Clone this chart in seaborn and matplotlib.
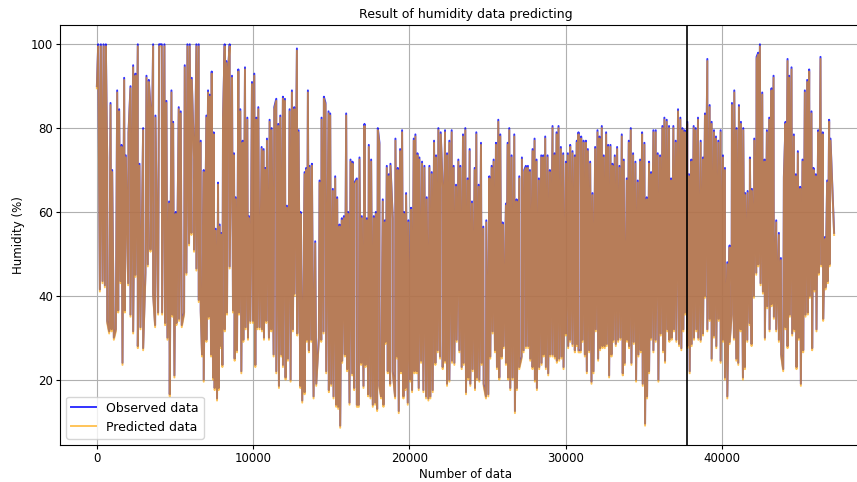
import matplotlib
matplotlib.use("Agg")
import matplotlib.pyplot as plt
import pandas as pd
import seaborn as sns

# Daily highs (peaks) and lows (troughs) of the hourly humidity record,
# indexed by observation number.
peak_n = [
    0, 86, 256, 426, 575, 661, 874, 980, 1300, 1427,
    1577, 1747, 1853, 2024, 2152, 2322, 2471, 2620, 2727, 2961,
    3174, 3323, 3430, 3600, 3749, 3983, 4154, 4324, 4452, 4622,
    4772, 4878, 5048, 5240, 5368, 5624, 5794, 5943, 6071, 6220,
    6369, 6518, 6646, 6838, 7008, 7115, 7221, 7349, 7477, 7604,
    7754, 7860, 7967, 8073, 8180, 8286, 8393, 8499, 8648, 8776,
    8882, 9053, 9181, 9330, 9479, 9628, 9734, 9926, 10075, 10203,
    10331, 10544, 10672, 10778, 10885, 11055, 11183, 11353, 11481, 11609,
    11737, 11907, 12035, 12163, 12333, 12482, 12631, 12802, 12908,
    13036, 13292, 13398, 13505, 13611, 13760, 13973, 14250, 14378, 14527,
    14633, 14825, 14932, 15102, 15251, 15379, 15528, 15677, 15805, 15954,
    16082, 16231, 16359, 16487, 16636, 16806, 16955, 17126, 17275, 17402,
    17552, 17722, 17850, 17978, 18084, 18297, 18425, 18553, 18680, 18787,
    18936, 19106, 19256, 19405, 19532, 19660, 19788, 19937, 20108, 20278,
    20384, 20512, 20640, 20810, 20960, 21109, 21279, 21428, 21577, 21705,
    21854, 22003, 22131, 22280, 22408, 22557, 22706, 22834, 22983, 23132,
    23260, 23430, 23579, 23729, 23856, 24005, 24176, 24282, 24431, 24581,
    24730, 24921, 25113, 25262, 25390, 25539, 25688, 25816, 25965, 26178,
    26285, 26391, 26540, 26711, 26860, 27030, 27200, 27350, 27456, 27584,
    27712, 27882, 28010, 28138, 28287, 28436, 28564, 28691, 28841, 28990,
    29160, 29288, 29416, 29543, 29693, 29842, 30012, 30140, 30289, 30438,
    30587, 30715, 30821,
    30992, 31141, 31290, 31418, 31567, 31716, 31886, 32036, 32163, 32312,
    32440, 32589, 32717, 32866, 32994, 33143, 33292, 33441, 33590, 33718,
    33910, 34038, 34166, 34315, 34464, 34613, 34762, 34890, 35039, 35188,
    35337, 35465, 35614, 35763, 35891, 36040, 36189, 36317, 36466, 36615,
    36743, 36892, 37041, 37190, 37339, 37467, 37616, 37787, 37893, 38042,
    38191, 38319, 38468, 38639, 38788, 38915, 39065, 39214, 39341, 39491,
    39618, 39767, 39917, 40066, 40193, 40343, 40492, 40641, 40790, 40939,
    41088, 41216, 41365, 41493, 41642, 41791, 41919, 42068, 42217, 42323,
    42430, 42579, 42728, 42877, 43026, 43175, 43303, 43474, 43644, 43772,
    43964, 44070, 44198, 44304, 44453, 44603, 44730, 44858, 45007, 45156,
    45305, 45455, 45582, 45731, 45859, 46008, 46157, 46307, 46456, 46583,
    46733, 46860, 46946,
]
peak_obs = [
    90, 100, 100, 100, 100, 73, 86, 70, 89, 84.5,
    76, 92, 73.5, 79, 90, 95, 93, 100, 71.5, 80,
    92.5, 91.5, 85, 100, 83, 100, 100, 100, 86.5, 62.5,
    89, 81.5, 60, 85, 84, 95, 100, 100, 92, 73,
    100, 100, 77, 70, 83, 89, 88, 93.5, 79, 56,
    67, 57, 55, 83, 100, 96, 94, 100, 92.5, 74,
    63.5, 94, 84.5, 77, 94.5, 82.5, 59, 91, 93, 82.5,
    85, 75.5, 75, 70.5, 77.5, 82, 80, 85, 87, 81,
    83, 87.5, 87, 61.5, 84.5, 89, 85, 99, 79.5,
    60, 69.5, 70.5, 89, 71, 71.5, 53, 67.5, 82.5, 87.5,
    86, 84, 83.5, 65.5, 68.5, 63.5, 57, 58.5, 59, 83.5,
    60, 72.5, 72, 67, 68, 73, 59, 81, 58.5, 76,
    72.5, 59, 60, 80, 76.5, 63, 58, 71, 69, 71.5,
    58.5, 77.5, 70.5, 75, 79.5, 60, 64.5, 58, 61, 77.5,
    78.5, 74, 73, 72, 71, 63.5, 71, 69.5, 77, 73.5,
    80, 79, 66, 79.5, 74, 77, 79.5, 71, 66.5, 72.5,
    71, 78.5, 80, 68, 75, 62.5, 70.5, 79, 66.5, 76.5,
    56.5, 58, 68.5, 71, 72.5, 76.5, 82, 78.5, 57.5, 62,
    76.5, 80, 73.5, 78.5, 63, 68.5, 73, 70, 71, 71,
    70, 75, 77.5, 72.5, 68, 73.5, 73.5, 78, 73.5, 70,
    80.5, 74, 79, 80.5, 75.5, 74, 72, 74, 76, 74.5,
    73.5, 77, 79,
    78, 77, 77, 75, 72, 64.5, 75.5, 79.5, 78, 80.5,
    73.5, 79, 76, 76, 71.5, 73.5, 75.5, 71, 78.5, 72.5,
    68, 77, 80, 74, 72, 67.5, 72.5, 79, 76.5, 63.5,
    72, 69.5, 79.5, 79.5, 74, 73.5, 80.5, 82.5, 82, 80.5,
    68, 80.5, 77, 84.5, 82.5, 80, 79.5, 81.5, 69, 72.5,
    80.5, 80, 82.5, 77, 73, 83.5, 96.5, 85.5, 81.5, 79.5,
    78, 77, 79.5, 73.5, 70.5, 48, 52, 86, 89, 80,
    85.5, 81.5, 80, 64.5, 65, 73, 65.5, 77.5, 97, 98,
    100, 88.5, 72.5, 79.5, 82.5, 89.5, 92.5, 58, 55, 49,
    68.5, 81.5, 96.5, 92.5, 94.5, 78.5, 69, 74.5, 66, 72.5,
    89, 91.5, 94, 84, 70.5, 69, 79.5, 97, 79, 54,
    67.5, 82, 77.5,
]
peak_pred = [
    89.5, 99.5, 99.5, 99.5, 99.5, 72.5, 85.5, 69.5, 88.5, 84,
    75.5, 91.5, 73, 78.5, 89.5, 94.5, 92.5, 99.5, 71, 79.5,
    92, 91, 84.5, 99.5, 82.5, 99.5, 99.5, 99.5, 86, 62,
    88.5, 81, 59.5, 84.5, 83.5, 94.5, 99.5, 99.5, 91.5, 72.5,
    99.5, 99.5, 76.5, 69.5, 82.5, 88.5, 87.5, 93, 78.5, 55.5,
    66.5, 56.5, 54.5, 82.5, 99.5, 95.5, 93.5, 99.5, 92, 73.5,
    63, 93.5, 84, 76.5, 94, 82, 58.5, 90.5, 92.5, 82,
    84.5, 75, 74.5, 70, 77, 81.5, 79.5, 84.5, 86.5, 80.5,
    82.5, 87, 86.5, 61, 84, 88.5, 84.5, 98.5, 79,
    59.5, 69, 70, 88.5, 70.5, 71, 52.5, 67, 82, 87,
    85.5, 83.5, 83, 65, 68, 63, 56.5, 58, 58.5, 83,
    59.5, 72, 71.5, 66.5, 67.5, 72.5, 58.5, 80.5, 58, 75.5,
    72, 58.5, 59.5, 79.5, 76, 62.5, 57.5, 70.5, 68.5, 71,
    58, 77, 70, 74.5, 79, 59.5, 64, 57.5, 60.5, 77,
    78, 73.5, 72.5, 71.5, 70.5, 63, 70.5, 69, 76.5, 73,
    79.5, 78.5, 65.5, 79, 73.5, 76.5, 79, 70.5, 66, 72,
    70.5, 78, 79.5, 67.5, 74.5, 62, 70, 78.5, 66, 76,
    56, 57.5, 68, 70.5, 72, 76, 81.5, 78, 57, 61.5,
    76, 79.5, 73, 78, 62.5, 68, 72.5, 69.5, 70.5, 70.5,
    69.5, 74.5, 77, 72, 67.5, 73, 73, 77.5, 73, 69.5,
    80, 73.5, 78.5, 80, 75, 73.5, 71.5, 73.5, 75.5, 74,
    73, 76.5, 78.5,
    77.5, 76.5, 76.5, 74.5, 71.5, 64, 75, 79, 77.5, 80,
    73, 78.5, 75.5, 75.5, 71, 73, 75, 70.5, 78, 72,
    67.5, 76.5, 79.5, 73.5, 71.5, 67, 72, 78.5, 76, 63,
    71.5, 69, 79, 79, 73.5, 73, 80, 82, 81.5, 80,
    67.5, 80, 76.5, 84, 82, 79.5, 79, 81, 68.5, 72,
    80, 79.5, 82, 76.5, 72.5, 83, 96, 85, 81, 79,
    77.5, 76.5, 79, 73, 70, 47.5, 51.5, 85.5, 88.5, 79.5,
    85, 81, 79.5, 64, 64.5, 72.5, 65, 77, 96.5, 97.5,
    99.5, 88, 72, 79, 82, 89, 92, 57.5, 54.5, 48.5,
    68, 81, 96, 92, 94, 78, 68.5, 74, 65.5, 72,
    88.5, 91, 93.5, 83.5, 70, 68.5, 79, 96.5, 78.5, 53.5,
    67, 81.5, 77,
]

trough_n = [
    192, 362, 512, 661, 788, 938, 1087, 1214, 1364, 1513,
    1640, 1790, 2003, 2152, 2322, 2471, 2620, 2791, 2961, 3110,
    3259, 3430, 3600, 3728, 3919, 4175, 4367, 4516, 4665, 4835,
    4963, 5091, 5261, 5432, 5581, 5730, 5900, 6050, 6220, 6369,
    6518, 6646, 6731, 6838, 7008, 7157, 7306, 7434, 7540, 7690,
    7796, 7945, 8031, 8180, 8329, 8499, 8712, 8819, 8968, 9095,
    9245, 9372, 9521, 9671, 9820, 9990, 10139, 10267, 10416, 10565,
    10693, 10842, 11012, 11162, 11311, 11481, 11651, 11801, 11907, 12077,
    12227, 12397, 12546, 12653, 12823,
    13015, 13142, 13292, 13441, 13568, 13718, 13867, 14037, 14207, 14357,
    14506, 14676, 14846, 14996, 15145, 15315, 15443, 15571, 15698, 15869,
    16018, 16167, 16337, 16465, 16636, 16763, 16913, 17062, 17189, 17360,
    17509, 17658, 17807, 17935, 18084, 18191, 18340, 18467, 18617, 18766,
    18936, 19085, 19213, 19319, 19469, 19618, 19745, 19895, 20044, 20171,
    20321, 20470, 20597, 20747, 20896, 21066, 21215, 21343, 21492, 21662,
    21812, 21961, 22131, 22280, 22408, 22557, 22727, 22877, 23026, 23196,
    23345, 23473, 23622, 23771, 23899, 24048, 24197, 24325, 24474, 24623,
    24751, 24900, 25049, 25177, 25326, 25475, 25603, 25752, 25901, 26029,
    26178, 26327, 26455, 26604, 26753, 26881, 27030, 27179, 27307, 27456,
    27605, 27733, 27882, 28031, 28159, 28308, 28457, 28585, 28734, 28883,
    29011, 29160, 29309, 29437, 29586, 29735, 29863, 30012, 30161, 30289,
    30438, 30587, 30715, 30821,
    30970, 31077, 31226, 31354, 31503, 31652, 31780, 31929, 32078, 32206,
    32355, 32504, 32632, 32781, 32930, 33058, 33207, 33356, 33505, 33654,
    33782, 33931, 34059, 34208, 34357, 34506, 34655, 34805, 34932, 35081,
    35209, 35337, 35465, 35614, 35763, 35933, 36083, 36232, 36359, 36509,
    36636, 36785, 36935, 37084, 37254, 37403, 37531, 37637, 37787, 37936,
    38063, 38213, 38362, 38489, 38639, 38788, 38915, 39065, 39214, 39341,
    39491, 39640, 39789, 39917, 40066, 40193, 40343, 40492, 40619, 40769,
    40918, 41045, 41195, 41344, 41471, 41621, 41770, 41897, 42047, 42196,
    42323, 42473, 42622, 42749, 42899, 43048, 43175, 43325, 43474, 43644,
    43793, 43921, 44070, 44198, 44347, 44496, 44645, 44773, 44922, 45050,
    45199, 45348, 45497, 45625, 45774, 45923, 46051, 46200, 46349, 46477,
    46626, 46775, 46882, 47179,
]
trough_obs = [
    41.5, 43.5, 42.5, 34, 31.5, 32, 30, 32, 36.5, 43.5,
    24, 36.5, 43, 35.5, 31.5, 45, 28, 32.5, 27.5, 45.5,
    47.5, 51, 40.5, 33, 36, 36, 33.5, 30, 16.5, 35.5,
    21, 33.5, 34.5, 33, 36, 45.5, 52.5, 55, 51, 46.5,
    39, 36.5, 26, 20, 29.5, 35, 26, 20.5, 18, 15.5,
    18, 28, 23.5, 32, 36, 47, 36.5, 25, 27, 36,
    22, 29.5, 32.5, 30, 34, 34, 23.5, 32.5, 32.5, 32,
    30, 34, 30, 32, 26, 22, 18.5, 26, 23.5, 20.5,
    25, 20, 32, 40.5, 31,
    18.5, 15, 17, 29.5, 27, 29.5, 16, 19, 30, 29.5,
    31.5, 22, 17.5, 19, 16, 14, 13.5, 9, 24.5, 26,
    22.5, 14.5, 21.5, 18, 14, 14, 24, 18.5, 23.5, 16.5,
    16, 14, 14.5, 13, 18.5, 16, 14, 29, 22, 19,
    22, 16, 25.5, 12.5, 22, 16, 18, 14.5, 20, 17.5,
    22, 22, 18, 24.5, 17.5, 16, 15.5, 16, 17.5, 24,
    27, 25.5, 23, 24.5, 19, 20, 24.5, 24, 29.5, 27,
    23, 24, 17, 20.5, 19, 22.5, 18, 20.5, 20, 24,
    19, 16, 16.5, 25.5, 31.5, 27, 23, 20.5, 25.5, 28,
    24, 20.5, 18, 20.5, 12.5, 18, 23, 25.5, 27, 28,
    28, 25, 23, 20, 18, 23, 24, 26, 23, 21.5,
    26, 26, 25.5, 24.5, 25, 25.5, 23, 31, 28, 29.5,
    28.5, 27, 28.5, 27,
    27, 29.5, 26, 22, 27, 19.5, 22, 32, 25, 27.5,
    28, 28, 28.5, 21, 26, 29.5, 28.5, 29.5, 30, 21.5,
    24, 29.5, 28, 24, 29, 20, 26, 27, 19, 9.5,
    16, 22, 30, 27, 29.5, 20, 31, 27, 24.5, 32,
    29.5, 30, 32, 29.5, 28.5, 27.5, 32, 36, 28, 22,
    28.5, 30, 32, 30, 29.5, 31, 40, 32, 34.5, 25,
    30.5, 28, 34.5, 24.5, 29.5, 20.5, 16, 29, 35.5, 30,
    25, 24, 32, 20.5, 23, 29.5, 33.5, 28.5, 40, 45.5,
    47.5, 43, 41, 30, 37.5, 32, 38, 35, 32, 29.5,
    26, 22.5, 32.5, 28, 35.5, 31, 32, 23, 30, 19,
    27, 35.5, 36, 40, 27.5, 41.5, 32, 45.5, 47.5, 34.5,
    42, 43.5, 47.5, 55,
]
trough_pred = [
    41, 43, 42, 33.5, 31, 31.5, 29.5, 31.5, 36, 43,
    23.5, 36, 42.5, 35, 31, 44.5, 27.5, 32, 27, 45,
    47, 50.5, 40, 32.5, 35.5, 35.5, 33, 29.5, 16, 35,
    20.5, 33, 34, 32.5, 35.5, 45, 52, 54.5, 50.5, 46,
    38.5, 36, 25.5, 19.5, 29, 34.5, 25.5, 20, 17.5, 15,
    17.5, 27.5, 23, 31.5, 35.5, 46.5, 36, 24.5, 26.5, 35.5,
    21.5, 29, 32, 29.5, 33.5, 33.5, 23, 32, 32, 31.5,
    29.5, 33.5, 29.5, 31.5, 25.5, 21.5, 18, 25.5, 23, 20,
    24.5, 19.5, 31.5, 40, 30.5,
    18, 14.5, 16.5, 29, 26.5, 29, 15.5, 18.5, 29.5, 29,
    31, 21.5, 17, 18.5, 15.5, 13.5, 13, 8.5, 24, 25.5,
    22, 14, 21, 17.5, 13.5, 13.5, 23.5, 18, 23, 16,
    15.5, 13.5, 14, 12.5, 18, 15.5, 13.5, 28.5, 21.5, 18.5,
    21.5, 15.5, 25, 12, 21.5, 15.5, 17.5, 14, 19.5, 17,
    21.5, 21.5, 17.5, 24, 17, 15.5, 15, 15.5, 17, 23.5,
    26.5, 25, 22.5, 24, 18.5, 19.5, 24, 23.5, 29, 26.5,
    22.5, 23.5, 16.5, 20, 18.5, 22, 17.5, 20, 19.5, 23.5,
    18.5, 15.5, 16, 25, 31, 26.5, 22.5, 20, 25, 27.5,
    23.5, 20, 17.5, 20, 12, 17.5, 22.5, 25, 26.5, 27.5,
    27.5, 24.5, 22.5, 19.5, 17.5, 22.5, 23.5, 25.5, 22.5, 21,
    25.5, 25.5, 25, 24, 24.5, 25, 22.5, 30.5, 27.5, 29,
    28, 26.5, 28, 26.5,
    26.5, 29, 25.5, 21.5, 26.5, 19, 21.5, 31.5, 24.5, 27,
    27.5, 27.5, 28, 20.5, 25.5, 29, 28, 29, 29.5, 21,
    23.5, 29, 27.5, 23.5, 28.5, 19.5, 25.5, 26.5, 18.5, 9,
    15.5, 21.5, 29.5, 26.5, 29, 19.5, 30.5, 26.5, 24, 31.5,
    29, 29.5, 31.5, 29, 28, 27, 31.5, 35.5, 27.5, 21.5,
    28, 29.5, 31.5, 29.5, 29, 30.5, 39.5, 31.5, 34, 24.5,
    30, 27.5, 34, 24, 29, 20, 15.5, 28.5, 35, 29.5,
    24.5, 23.5, 31.5, 20, 22.5, 29, 33, 28, 39.5, 45,
    47, 42.5, 40.5, 29.5, 37, 31.5, 37.5, 34.5, 31.5, 29,
    25.5, 22, 32, 27.5, 35, 30.5, 31.5, 22.5, 29.5, 18.5,
    26.5, 35, 35.5, 39.5, 27, 41, 31.5, 45, 47, 34,
    41.5, 43, 47, 54.5,
]

n_total = 47180      # number of hourly records
split_n = 37745      # first record of the test period


def humidity_series(peaks, troughs):
    frame = pd.DataFrame({
        "n": peak_n + trough_n,
        "humidity": peaks + troughs,
    })
    return frame.sort_values("n", kind="stable").reset_index(drop=True)


observed = humidity_series(peak_obs, trough_obs)
predicted = humidity_series(peak_pred, trough_pred)

fig = plt.figure(figsize=(8.57, 4.82), dpi=100)
ax = fig.add_axes([60 / 857, 37 / 482, 811 / 857, 420 / 482])

sns.lineplot(data=observed, x="n", y="humidity", color="blue", alpha=0.8,
             lw=1.4, estimator=None, sort=False, label="Observed data", ax=ax)
sns.lineplot(data=predicted, x="n", y="humidity", color="orange", alpha=0.65,
             lw=1.4, estimator=None, sort=False, label="Predicted data", ax=ax)
ax.axvline(split_n, color="black", lw=1.2)

ax.set_xlim(-0.05 * n_total, 1.05 * n_total)
ax.set_ylim(4.4, 104.6)
ax.grid(True, color="#b0b0b0", lw=0.8)
ax.set_title("Result of humidity data predicting", fontsize=9, pad=5)
ax.set_xlabel("Number of data", fontsize=8.5, labelpad=2)
ax.set_ylabel("Humidity (%)", fontsize=8.5, labelpad=4)
ax.tick_params(labelsize=8.5, length=3, pad=2)
ax.legend(loc="lower left", fontsize=9)

fig.savefig("out.png", dpi=100)
